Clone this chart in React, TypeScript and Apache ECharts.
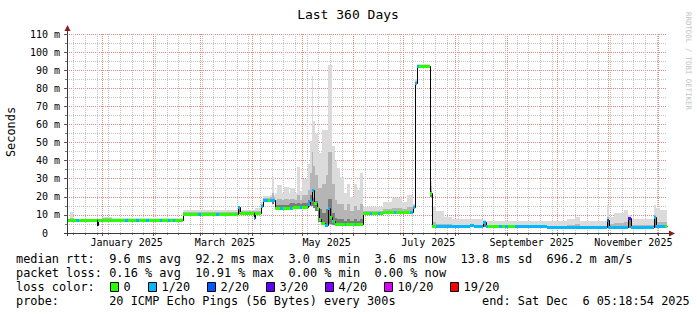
import React, { useEffect, useRef } from 'react';
import * as echarts from 'echarts';

const FONT = '"DejaVu Sans Mono", monospace';
const SPAN = 360; // days shown
const START = Date.UTC(2024, 11, 11, 5, 18, 54); // end (Dec 6 2025 05:18:54) minus 360 days
const DAY = 86400000;

// ---- x axis: month grid / labels -----------------------------------------
const gridMonths: [number, number][] = [
  [2025, 0], [2025, 1], [2025, 2], [2025, 3], [2025, 4], [2025, 5],
  [2025, 6], [2025, 7], [2025, 8], [2025, 9], [2025, 10], [2025, 11],
];
const labelMonths: [number, number][] = [[2025, 0], [2025, 2], [2025, 4], [2025, 6], [2025, 8], [2025, 10]];
const labelTexts = ['January 2025', 'March 2025', 'May 2025', 'July 2025', 'September 2025', 'November 2025'];
const firstWeekStart: [number, number, number] = [2024, 11, 15];

// ---- y axis ----------------------------------------------------------------
const yMin = 0;
const yMax = 110;
const yStep = 10;

// ---- median rtt (ms), step function: value holds from day until next day --
const medianDays = [0, 17.7, 18.6, 69.6, 102.6, 103.8, 111.9, 112.8, 116.1, 117.3, 124.8, 135.6, 144.6, 145.8, 147.0, 147.9, 149.7, 151.2, 152.4, 154.8, 156.3, 157.5, 158.7, 160.8, 177.6, 189.6, 207.6, 208.5, 209.7, 217.8, 218.7, 241.8, 244.2, 249.6, 251.4, 288.0, 323.7, 324.9, 336.3, 338.1, 351.9, 353.1, 360];
const medianVals = [7.2, 4.4, 7.2, 10.3, 14.4, 11.0, 8.3, 11.0, 15.0, 18.2, 14.0, 14.6, 16.0, 18.5, 23.5, 16.5, 14.0, 8.0, 5.5, 4.5, 14.0, 9.0, 6.5, 4.8, 11.0, 11.4, 14.6, 82.7, 92.2, 22.0, 3.8, 4.6, 3.8, 6.2, 3.8, 3.1, 7.2, 3.1, 8.1, 3.1, 9.0, 3.9, 3.9];

// ---- loss level (index into lossColors), step function; -1 = not coloured -
const lossDays = [0, 5.4, 7.2, 17.7, 18.6, 34.8, 36.6, 41.4, 43.2, 47.4, 49.2, 55.8, 57.0, 60.6, 61.8, 63.6, 65.0, 78.6, 80.4, 89.4, 91.2, 102.6, 103.8, 111.9, 112.8, 116.1, 120.6, 121.8, 124.8, 127.8, 129.6, 133.8, 135.0, 139.8, 141.0, 144.6, 147.9, 154.8, 157.5, 159.3, 160.2, 166.8, 167.6, 172.8, 173.6, 181.8, 183.0, 186.6, 187.8, 196.2, 197.4, 205.8, 211.2, 221.4, 252.6, 259.0, 261.0, 263.0, 264.6, 268.8, 323.7, 324.9, 336.3, 338.1, 359.0];
const lossLevels = [0, 1, 0, -1, 0, 1, 0, 1, 0, 1, 0, 1, 0, 1, 0, 1, 0, 1, 0, 1, 0, 1, 0, 1, 0, 1, 0, 1, 0, 1, 0, 1, 0, 1, 0, 1, 0, 1, 0, 1, 0, 1, 0, 1, 0, 1, 0, 1, 0, 1, 0, 1, 0, 1, 0, 1, 0, 1, 0, 1, 2, 1, 3, 1, 0];

// ---- smoke (ms): min, dark-band top, mid-band top, max ---------------------
const smokeDays = [0, 1.8, 3.6, 17.7, 18.6, 21, 27, 36, 42, 69.6, 102.6, 103.8, 111.9, 112.8, 116.1, 117.3, 121.8, 123.0, 124.2, 124.8, 126.0, 129.0, 130.0, 133.0, 134.0, 137.0, 138.0, 140.0, 141.0, 144.6, 145.8, 146.7, 147.6, 148.8, 150.6, 153.0, 155.4, 156.3, 159.0, 160.8, 162.0, 163.8, 166.0, 168.0, 170.0, 172.0, 174.0, 175.5, 177.6, 189.6, 195.0, 201.0, 204.0, 207.6, 208.5, 209.7, 217.8, 218.7, 221.4, 226.0, 231.0, 249.6, 251.4, 288.0, 300.0, 305.0, 308.0, 323.7, 324.9, 328.0, 334.0, 336.3, 338.1, 346.0, 351.9, 353.1, 356.0, 360];
const smokeLo = [6.8, 6.8, 6.8, 4.2, 6.8, 6.8, 6.8, 6.8, 6.8, 9.8, 10.5, 10.4, 8.0, 10.4, 14.5, 17.0, 17.0, 16.0, 17.0, 13.0, 13.0, 13.0, 13.0, 13.0, 13.0, 13.0, 13.0, 13.0, 13.0, 14.5, 15.0, 15.0, 14.0, 12.0, 6.0, 4.5, 4.2, 5.0, 4.2, 4.2, 4.2, 4.2, 4.2, 4.2, 4.2, 4.2, 4.2, 4.2, 10.5, 10.8, 10.8, 10.8, 10.8, 14.0, 82.0, 91.5, 20.0, 3.4, 3.4, 3.4, 3.4, 3.4, 3.4, 2.7, 2.7, 2.7, 2.7, 2.7, 2.7, 2.7, 2.7, 2.7, 2.7, 2.7, 2.7, 3.2, 3.2, 3.2];
const smokeDk = [7.5, 7.5, 7.5, 7.5, 7.5, 7.5, 7.5, 7.5, 7.5, 10.7, 14.4, 11.4, 11.4, 11.4, 15.4, 18.6, 18.6, 19.0, 18.6, 15.5, 15.5, 15.5, 15.5, 16.0, 16.5, 16.0, 16.5, 16.0, 16.5, 18.5, 21.0, 24.0, 19.5, 17.5, 13.0, 11.0, 13.0, 19.0, 11.0, 8.5, 7.5, 7.5, 6.5, 7.5, 6.5, 7.5, 6.5, 7.5, 11.4, 11.8, 11.8, 11.8, 12.0, 15.0, 83.0, 92.6, 23.0, 4.2, 4.2, 4.1, 4.1, 6.4, 4.1, 3.4, 3.4, 3.5, 3.4, 7.2, 3.5, 3.6, 3.6, 8.1, 3.4, 3.4, 9.0, 4.2, 4.2, 4.2];
const smokeMd = [7.8, 8.4, 7.8, 7.8, 7.8, 8.1, 7.9, 8.0, 7.8, 11.4, 14.8, 11.9, 11.9, 12.1, 16.0, 19.3, 19.8, 22.0, 19.8, 18.0, 19.0, 18.0, 19.0, 18.0, 19.0, 18.0, 21.0, 18.0, 21.0, 24.0, 33.0, 45.0, 37.0, 32.0, 25.0, 27.0, 32.0, 45.0, 27.0, 18.0, 16.0, 16.0, 12.5, 16.0, 12.0, 15.0, 12.5, 16.0, 12.2, 13.2, 14.0, 13.5, 14.5, 15.5, 84.0, 93.0, 26.0, 6.0, 5.0, 4.8, 4.6, 6.6, 4.6, 4.0, 4.3, 4.8, 4.0, 9.0, 5.0, 5.5, 6.0, 8.6, 4.5, 4.5, 10.0, 6.0, 6.0, 6.0];
const smokeHi = [8.0, 11.8, 8.0, 8.0, 8.0, 8.6, 8.2, 8.4, 8.1, 12.7, 15.2, 12.6, 12.6, 13.6, 17.0, 20.5, 21.0, 31.0, 21.0, 22.0, 26.5, 22.0, 25.5, 22.0, 25.0, 22.0, 36.5, 23.0, 30.0, 38.0, 51.0, 87.0, 62.0, 55.0, 44.0, 57.0, 57.0, 93.0, 48.0, 40.0, 36.0, 31.0, 22.0, 27.0, 20.0, 27.0, 24.0, 33.0, 14.5, 17.0, 19.5, 17.0, 21.0, 16.0, 85.0, 93.6, 29.0, 15.0, 12.0, 9.0, 7.5, 7.0, 6.5, 6.5, 7.5, 9.0, 6.5, 15.5, 9.0, 11.0, 12.5, 10.0, 7.7, 8.0, 15.5, 14.0, 12.5, 12.5];

// ---- legend / statistics text ---------------------------------------------
const titleText = 'Last 360 Days';
const yTitle = 'Seconds';
const rttStats = ['9.6 ms avg', '92.2 ms max', '3.0 ms min', '3.6 ms now', '13.8 ms sd', '696.2 m am/s'];
const lossStats = ['0.16 % avg', '10.91 % max', '0.00 % min', '0.00 % now'];
const lossLabels = ['0', '1/20', '2/20', '3/20', '4/20', '10/20', '19/20'];
const lossColors = ['#26ff00', '#00b8ff', '#0059ff', '#5e00ff', '#7e00ff', '#dd00ff', '#ff0000'];
const probeText = '20 ICMP Echo Pings (56 Bytes) every 300s';
const endText = ['end: Sat Dec', '6 05:18:54 2025'];
const watermark = 'RRDTOOL / TOBI OETIKER';

// ---- styles ---------------------------------------------------------------
const SMOKE = ['#7c7c7c', '#b5b5b5', '#dbdbdb'];
const MAJOR = '#e28a8a';
const MINOR = '#c2c2c2';

function dayOf(y: number, m: number, d = 1) {
  return (Date.UTC(y, m, d) - START) / DAY;
}

function buildOption() {
  const monthTicks = gridMonths.map(([y, m]) => dayOf(y, m));
  const labelPos = labelMonths.map(([y, m]) => dayOf(y, m) + 15);
  const weekTicks: number[] = [];
  for (let d = dayOf(...firstWeekStart); d < SPAN; d += 7) weekTicks.push(d);
  const vGrid = [...weekTicks.map((d) => [d, 0]), ...monthTicks.map((d) => [d, 1])];

  const smokeData = smokeDays.slice(0, -1).map((d, i) => [d, smokeDays[i + 1], smokeLo[i], smokeDk[i], smokeMd[i], smokeHi[i]]);
  const lineData = medianDays.slice(0, -1).map((d, i) => [d, medianDays[i + 1], medianVals[i], medianVals[Math.min(i + 1, medianVals.length - 1)]]);
  const pieces: number[][] = [];
  for (let i = 0; i < lossDays.length; i++) {
    const lvl = lossLevels[i];
    if (lvl < 0) continue;
    const s = lossDays[i];
    const e = i + 1 < lossDays.length ? lossDays[i + 1] : SPAN;
    for (let j = 0; j < medianDays.length - 1; j++) {
      const a = Math.max(s, medianDays[j]);
      const b = Math.min(e, medianDays[j + 1]);
      if (b > a) pieces.push([a, b, medianVals[j], lvl]);
    }
  }

  const LEG = 11.9;
  const CW = 7.17;
  const LX = 16;
  const txt = (x: number, y: number, text: string, extra: any = {}) => ({
    type: 'text', x, y, silent: true,
    style: { text, fontFamily: FONT, fontSize: LEG, fill: '#000', align: 'left', verticalAlign: 'middle', ...extra },
  });
  const graphics: any[] = [];
  graphics.push(txt(348, 14, titleText, { align: 'center', fontSize: 13 }));
  graphics.push({ type: 'text', x: 11, y: 132, rotation: Math.PI / 2, silent: true, style: { text: yTitle, fontFamily: FONT, fontSize: LEG, fill: '#000', align: 'center', verticalAlign: 'middle' } });
  graphics.push({ type: 'text', x: 688, y: 61, rotation: -Math.PI / 2, silent: true, style: { text: watermark, fontFamily: FONT, fontSize: 7.4, fill: '#c4c4c4', align: 'center', verticalAlign: 'middle' } });
  // axis lines with arrows
  graphics.push({ type: 'line', silent: true, z: 10, shape: { x1: 67.5, y1: 236, x2: 67.5, y2: 30 }, style: { stroke: '#3a3a3a', lineWidth: 1 } });
  graphics.push({ type: 'polygon', silent: true, z: 10, shape: { points: [[64.5, 31], [70.5, 31], [67.5, 25]] }, style: { fill: '#8b1c1c' } });
  graphics.push({ type: 'line', silent: true, z: 10, shape: { x1: 64, y1: 233.5, x2: 670, y2: 233.5 }, style: { stroke: '#3a3a3a', lineWidth: 1 } });
  graphics.push({ type: 'polygon', silent: true, z: 10, shape: { points: [[669, 230.5], [669, 236.5], [675, 233.5]] }, style: { fill: '#8b1c1c' } });

  // row 1
  const rttCols = [13, 25, 38, 50, 62, 74];
  graphics.push(txt(LX, 259, 'median rtt:'));
  rttStats.forEach((s, i) => graphics.push(txt(LX + rttCols[i] * CW, 259, s)));
  // row 2
  const lossCols = [13, 25, 38, 50];
  graphics.push(txt(LX, 273, 'packet loss:'));
  lossStats.forEach((s, i) => graphics.push(txt(LX + lossCols[i] * CW, 273, s)));
  // row 3
  graphics.push(txt(LX, 287, 'loss color:'));
  let bx = 110;
  lossLabels.forEach((lab, i) => {
    graphics.push({ type: 'rect', silent: true, shape: { x: bx + 0.5, y: 282.5, width: 8, height: 9 }, style: { fill: lossColors[i], stroke: '#000', lineWidth: 1 } });
    const lx = bx + 13.5;
    graphics.push(txt(lx, 287, lab));
    bx = Math.round(lx + lab.length * CW + 17);
  });
  // row 4
  graphics.push(txt(LX, 301, 'probe:'));
  graphics.push(txt(LX + 13 * CW, 301, probeText));
  graphics.push(txt(482, 301, endText[0]));
  graphics.push(txt(482 + 14 * CW, 301, endText[1]));

  return {
    animation: false,
    backgroundColor: '#ffffff',
    textStyle: { fontFamily: FONT },
    grid: { left: 67, right: 30, top: 34, bottom: 82, containLabel: false },
    xAxis: {
      type: 'value', min: 0, max: SPAN, position: 'bottom',
      axisLine: { show: false },
      axisTick: { show: false },
      splitLine: { show: false },
      axisLabel: {
        show: true,
        customValues: labelPos,
        margin: 4,
        fontFamily: FONT, fontSize: 10, color: '#000',
        formatter: (v: number) => {
          let best = 0;
          labelPos.forEach((p, i) => { if (Math.abs(p - v) < Math.abs(labelPos[best] - v)) best = i; });
          return labelTexts[best];
        },
      },
    },
    yAxis: {
      type: 'value', min: yMin, max: yMax, interval: yStep,
      axisLine: { show: false },
      axisTick: { show: true, length: 3, lineStyle: { color: '#555' } },
      minorTick: { show: true, splitNumber: 2, length: 2, lineStyle: { color: '#777' } },
      splitLine: { show: true, lineStyle: { color: MAJOR, type: [1, 1], width: 1 } },
      minorSplitLine: { show: true, lineStyle: { color: MINOR, type: [1, 1], width: 1 } },
      axisLabel: {
        margin: 7, fontFamily: FONT, fontSize: 10, color: '#000',
        formatter: (v: number) => (v === 0 ? '{z|0}' : `${v} m`),
        rich: { z: { fontFamily: FONT, fontSize: 10, color: '#000', padding: [0, 12, 0, 0] } },
      },
    },
    series: [
      {
        type: 'custom', name: 'vgrid', z: 0, silent: true, clip: false,
        encode: { x: 0, y: -1 },
        data: vGrid,
        renderItem: (params: any, api: any) => {
          const cs = params.coordSys;
          const major = api.value(1) === 1;
          const x = Math.round(api.coord([api.value(0), 0])[0]) + 0.5;
          const bottom = cs.y + cs.height;
          return {
            type: 'group',
            children: [
              { type: 'line', shape: { x1: x, y1: cs.y, x2: x, y2: bottom }, style: { stroke: major ? MAJOR : MINOR, lineWidth: 1, lineDash: [1, 1] } },
              { type: 'line', shape: { x1: x, y1: bottom, x2: x, y2: bottom + (major ? 3 : 2) }, style: { stroke: major ? '#555' : '#888', lineWidth: 1 } },
            ],
          };
        },
      },
      {
        type: 'custom', name: 'smoke', z: 1, silent: true,
        encode: { x: [0, 1], y: [2, 3, 4, 5] },
        data: smokeData,
        renderItem: (_p: any, api: any) => {
          const x0 = Math.round(api.coord([api.value(0), 0])[0]);
          const x1 = Math.round(api.coord([api.value(1), 0])[0]);
          const ys = [2, 3, 4, 5].map((k) => Math.round(api.coord([api.value(0), api.value(k)])[1]));
          const children: any[] = [];
          for (let k = 0; k < 3; k++) {
            const top = ys[k + 1];
            const bot = ys[k];
            if (bot - top > 0 && x1 > x0) {
              children.push({ type: 'rect', shape: { x: x0, y: top, width: x1 - x0, height: bot - top }, style: { fill: SMOKE[k] } });
            }
          }
          return { type: 'group', children };
        },
      },
      {
        type: 'custom', name: 'median', z: 2, silent: true,
        encode: { x: [0, 1], y: [2, 3] },
        data: lineData,
        renderItem: (_p: any, api: any) => {
          const x0 = Math.round(api.coord([api.value(0), 0])[0]);
          const x1 = Math.round(api.coord([api.value(1), 0])[0]);
          const y0 = Math.round(api.coord([0, api.value(2)])[1]) + 0.5;
          const y1 = Math.round(api.coord([0, api.value(3)])[1]) + 0.5;
          return {
            type: 'polyline',
            shape: { points: [[x0, y0], [x1 + 0.5, y0], [x1 + 0.5, y1]] },
            style: { stroke: '#000', lineWidth: 1, fill: null },
          };
        },
      },
      {
        type: 'custom', name: 'loss', z: 3, silent: true,
        encode: { x: [0, 1], y: 2 },
        data: pieces,
        renderItem: (_p: any, api: any) => {
          const x0 = Math.round(api.coord([api.value(0), 0])[0]);
          const x1 = Math.round(api.coord([api.value(1), 0])[0]);
          const y = Math.round(api.coord([0, api.value(2)])[1]);
          return {
            type: 'rect',
            shape: { x: x0, y: y - 1, width: Math.max(1, x1 - x0), height: 3 },
            style: { fill: lossColors[api.value(3)] },
          };
        },
      },
    ],
    graphic: graphics,
  };
}

export default function App() {
  const ref = useRef<HTMLDivElement>(null);
  useEffect(() => {
    document.body.style.margin = '0';
    const chart = echarts.init(ref.current as HTMLDivElement, null, { renderer: 'svg' });
    chart.setOption(buildOption() as any);
    return () => chart.dispose();
  }, []);
  return <div ref={ref} style={{ width: 697, height: 315 }} />;
}
